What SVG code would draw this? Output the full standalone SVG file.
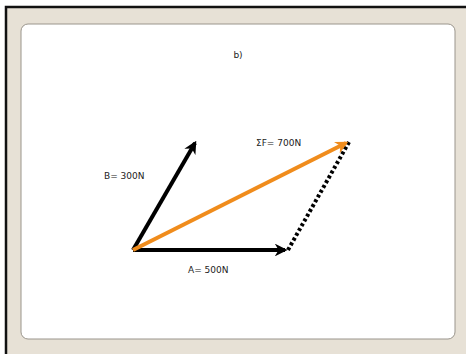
<svg xmlns="http://www.w3.org/2000/svg" width="466" height="354" viewBox="0 0 466 354">
<style>
text{font-family:"DejaVu Sans","Liberation Sans",sans-serif;font-size:9px;fill:#222}
.v{stroke-width:4;fill:none}
</style>
<defs>
<marker id="ab" viewBox="0 0 10 10" refX="8" refY="5" markerWidth="3.2" markerHeight="3.2" orient="auto" markerUnits="strokeWidth"><path d="M0,0 L10,5 L0,10 L3,5 Z" fill="#000"/></marker>
<marker id="ao" viewBox="0 0 10 10" refX="8" refY="5" markerWidth="3.2" markerHeight="3.2" orient="auto" markerUnits="strokeWidth"><path d="M0,0 L10,5 L0,10 L3,5 Z" fill="#f08c1c"/></marker>
</defs>
<rect x="0" y="0" width="466" height="354" fill="#fff"/>
<rect x="6" y="7" width="462" height="350" fill="#e7e1d6" stroke="#111" stroke-width="2.5"/>
<rect x="21" y="24" width="434" height="315" rx="7" fill="#fff" stroke="#9a958c" stroke-width="1"/>
<g id="title"><text x="238" y="58" text-anchor="middle">b)</text></g>
<g id="connectors">
<line class="v" x1="288" y1="250" x2="349" y2="142" stroke="#000" stroke-dasharray="3,2.5"/>
<line class="v" x1="133" y1="250" x2="285" y2="250" stroke="#000" marker-end="url(#ab)"/>
<line class="v" x1="133" y1="250" x2="195" y2="143" stroke="#000" marker-end="url(#ab)"/>
<line class="v" x1="133" y1="250" x2="346" y2="143" stroke="#f08c1c" marker-end="url(#ao)"/>
</g>
<g id="labelB"><text x="104" y="179">B= 300N</text></g>
<g id="labelF"><text x="256" y="146">ΣF= 700N</text></g>
<g id="labelA"><text x="188" y="273">A= 500N</text></g>
</svg>
